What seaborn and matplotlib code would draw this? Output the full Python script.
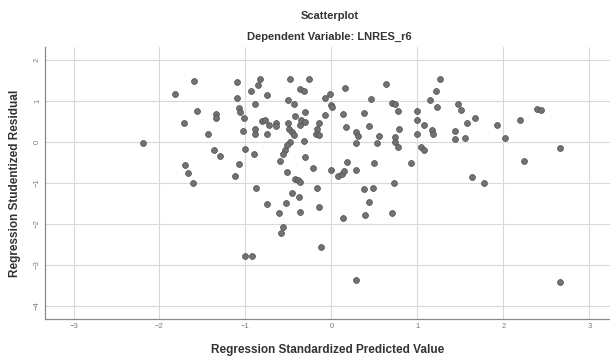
import matplotlib
matplotlib.use("Agg")
import matplotlib.pyplot as plt
import seaborn as sns
import pandas as pd

# values
predicted = [
    -2.19, -1.82, -1.60, -1.56, -1.71, -1.44, -1.34, -1.34, -1.10, -1.10,
    -1.07, -1.06, -1.02, -1.03, -0.89, -0.94, -0.85, -0.83, -0.75, -0.81,
    -0.77, -0.73, -0.64, -0.64, -0.89, -0.89, -0.75, -0.48, -0.36, -0.50,
    -0.44, -0.42, -0.50, -0.49, -0.46, -0.44, -0.37, -1.37, -1.30, -1.01,
    -0.90, -0.48, -0.52, -0.54, -0.56, -0.60, -1.70, -1.07, -1.67, -1.61,
    -1.12, -0.52, -0.42, -0.39, -0.37, -0.88, -0.46, -0.38, -0.75, -0.53,
    -0.61, -0.36, -0.56, -0.59, -1.00, -0.92, -0.26, -0.32, -0.08, -0.02,
    0.00, 0.01, -0.31, -0.08, -0.35, -0.31, -0.15, -0.17, -0.18, -0.15,
    0.16, 0.14, 0.17, 0.29, 0.31, 0.28, 0.46, 0.38, 0.44, 0.55,
    0.53, 0.64, 0.70, 0.74, 0.77, 0.79, 0.74, 0.74, 0.77, 0.99,
    1.00, 1.08, 0.99, 1.17, 1.18, 1.04, 1.08, 1.15, 1.22, 1.26,
    1.23, 1.47, 1.51, 1.67, 1.58, 1.44, 1.44, 1.55, 1.93, 2.19,
    2.02, 2.39, 2.44, 2.66, 2.24, 1.63, 1.78, -0.32, -0.31, 0.18,
    0.50, 0.93, -0.21, -0.01, 0.08, 0.12, 0.15, 0.28, -0.17, -0.15,
    0.14, -0.12, 0.38, 0.48, 0.44, 0.39, 0.73, 0.71, 0.28, 2.66,
]
residual = [
    -0.03, 1.18, 1.49, 0.76, 0.46, 0.20, 0.68, 0.59, 1.47, 1.09,
    0.83, 0.74, 0.59, 0.27, 0.93, 1.24, 1.39, 1.53, 1.16, 0.51,
    0.54, 0.43, 0.46, 0.40, 0.32, 0.21, 0.21, 1.53, 1.29, 1.04,
    0.94, 0.65, 0.46, 0.33, 0.25, 0.17, 0.41, -0.20, -0.34, -0.18,
    -0.28, 0.01, -0.07, -0.20, -0.28, -0.45, -0.55, -0.54, -0.76, -1.01,
    -0.83, -0.72, -0.89, -0.93, -0.98, -1.13, -1.25, -1.33, -1.51, -1.49,
    -1.72, -1.70, -2.07, -2.21, -2.78, -2.78, 1.54, 1.26, 1.09, 1.18,
    0.91, 0.87, 0.74, 0.66, 0.55, 0.50, 0.46, 0.33, 0.21, 0.18,
    1.33, 0.68, 0.38, 0.25, 0.16, -0.01, 1.05, 0.71, 0.40, 0.15,
    -0.03, 1.43, 0.96, 0.93, 0.76, 0.33, 0.13, 0.00, -0.11, 0.77,
    0.53, 0.43, 0.21, 0.30, 0.20, -0.11, -0.20, 1.04, 1.26, 1.53,
    0.85, 0.92, 0.78, 0.60, 0.46, 0.27, 0.07, 0.09, 0.43, 0.54,
    0.11, 0.82, 0.78, -0.14, -0.46, -0.85, -1.01, 0.02, -0.36, -0.49,
    -0.51, -0.50, -0.62, -0.67, -0.83, -0.78, -0.70, -0.67, -1.13, -1.58,
    -1.85, -2.55, -1.15, -1.13, -1.47, -1.78, -1.01, -1.72, -3.37, -3.41,
]
x_ticks = [-3, -2, -1, 0, 1, 2, 3]
y_ticks = [2, 1, 0, -1, -2, -3, -4]

df = pd.DataFrame({"pred": predicted, "resid": residual})

sns.set_style("white")
plt.rcParams['font.family'] = ['Liberation Sans', 'DejaVu Sans']

fig = plt.figure(figsize=(6.1, 3.6), dpi=100)
ax = fig.add_axes([0.074, 0.114, 0.926, 0.755])

ax.set_xticks(x_ticks)
ax.set_yticks(y_ticks)
ax.grid(True, color='#d9d9d9', linewidth=0.8)
ax.set_axisbelow(True)

sns.scatterplot(data=df, x="pred", y="resid", ax=ax, s=18,
                color='#727272', edgecolor='#4d4d4d', linewidth=0.5)

ax.set_xlim(-3.33, 3.24)
ax.set_ylim(-4.32, 2.32)

for side in ['top', 'right']:
    ax.spines[side].set_visible(False)
for side in ['left', 'bottom']:
    ax.spines[side].set_color('#8a8a8a')
    ax.spines[side].set_linewidth(0.9)

ax.tick_params(axis='both', length=0, labelsize=5.5, labelcolor='#7a7a7a', pad=3)
for lbl in ax.get_yticklabels():
    lbl.set_rotation(90)
    lbl.set_va('center')

ax.set_xlabel('Regression Standardized Predicted Value', fontsize=8.5,
              fontweight='bold', color='#333333', labelpad=10)
ax.set_ylabel('Regression Studentized Residual', fontsize=8.5,
              fontweight='bold', color='#333333', labelpad=9)

fig.text(0.54, 0.955, 'Scatterplot', ha='center', va='center',
         fontsize=8, fontweight='bold', color='#333333')
fig.text(0.54, 0.898, 'Dependent Variable: LNRES_r6', ha='center', va='center',
         fontsize=8, fontweight='bold', color='#333333')

fig.savefig('out.png', dpi=100)
